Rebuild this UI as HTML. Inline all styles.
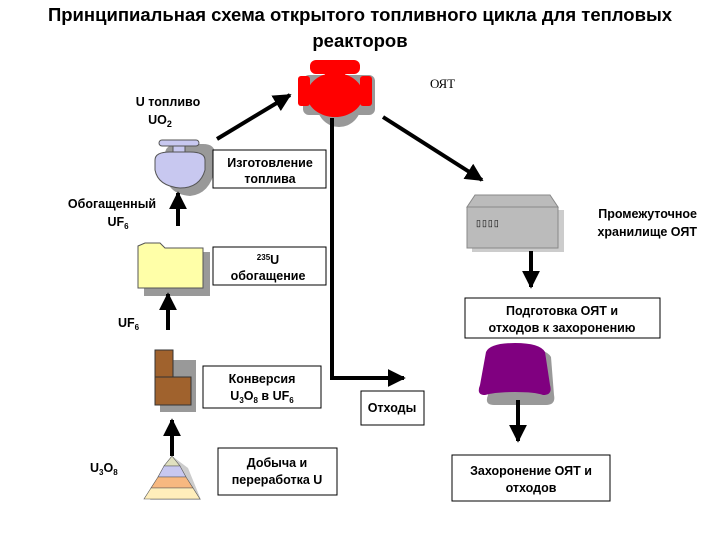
<!DOCTYPE html>
<html><head><meta charset="utf-8"><style>
body{margin:0;background:#fff}
svg{display:block}
text{font-family:"Liberation Sans",Arial,sans-serif;font-weight:bold;font-size:12.5px;fill:#000}
.b{fill:#fff;stroke:#000;stroke-width:1}
</style></head><body>
<svg width="720" height="540" viewBox="0 0 720 540">
<defs>
<marker id="ah" viewBox="0 0 10 10" refX="9" refY="5" markerWidth="4.5" markerHeight="4.5" orient="auto-start-reverse" markerUnits="strokeWidth"><path d="M0,0L10,5L0,10z" fill="#000"/></marker>
</defs>
<text x="360" y="21" text-anchor="middle" style="font-size:18.5px">Принципиальная схема открытого топливного цикла для тепловых</text>
<text x="360" y="47" text-anchor="middle" style="font-size:18.5px">реакторов</text>

<!-- reactor -->
<g transform="translate(5,5)" fill="#999"><rect x="298" y="70" width="72" height="40" rx="6"/><circle cx="334" cy="100" r="22"/></g>
<rect x="310" y="60" width="50" height="14" rx="6" fill="#f00"/>
<rect x="325" y="70" width="20" height="8" fill="#f00"/>
<rect x="298" y="76" width="12" height="30" rx="3" fill="#f00"/>
<rect x="360" y="76" width="12" height="30" rx="3" fill="#f00"/>
<ellipse cx="335" cy="95" rx="28" ry="22" fill="#f00"/>
<text x="430" y="88" style="font-family:'Liberation Serif',serif;font-weight:normal;font-size:13px">ОЯТ</text>

<text x="168" y="106" text-anchor="middle">U топливо</text>
<text x="160" y="124" text-anchor="middle">UO<tspan font-size="9" dy="3">2</tspan></text>

<!-- blue icon -->
<path d="M160,150 Q160,140 175,140 L198,140 Q210,140 210,150 L210,165 Q205,190 185,192 Q160,190 160,165z" fill="#999" transform="translate(5,4)"/>
<rect x="159" y="140" width="40" height="6" rx="3" fill="#c8c8f0" stroke="#555"/>
<rect x="173" y="146" width="12" height="6" fill="#c8c8f0" stroke="#555"/>
<path d="M155,160 Q155,152 170,152 L190,152 Q205,152 205,160 L205,170 Q200,188 180,188 Q158,186 155,170z" fill="#c8c8f0" stroke="#555"/>

<rect class="b" x="213" y="150" width="113" height="38"/>
<text x="270" y="167" text-anchor="middle">Изготовление</text>
<text x="270" y="183" text-anchor="middle">топлива</text>

<line x1="217" y1="139" x2="290" y2="95" stroke="#000" stroke-width="4" marker-end="url(#ah)"/>
<line x1="383" y1="117" x2="482" y2="180" stroke="#000" stroke-width="4" marker-end="url(#ah)"/>
<polyline points="332,118 332,378 404,378" fill="none" stroke="#000" stroke-width="4" marker-end="url(#ah)"/>

<text x="112" y="208" text-anchor="middle">Обогащенный</text>
<text x="118" y="226" text-anchor="middle">UF<tspan font-size="8" dy="3">6</tspan></text>
<line x1="178" y1="226" x2="178" y2="193" stroke="#000" stroke-width="4" marker-end="url(#ah)"/>

<!-- gray storage -->
<rect x="472" y="210" width="92" height="42" fill="#ccc"/>
<path d="M467,207 L475,195 L550,195 L558,207z" fill="#bbb" stroke="#888"/>
<rect x="467" y="207" width="91" height="41" fill="#bbb" stroke="#888"/>
<text x="476" y="226" style="font-size:9px;font-weight:normal;letter-spacing:1px">▯▯▯▯</text>
<text x="697" y="218" text-anchor="end">Промежуточное</text>
<text x="697" y="236" text-anchor="end">хранилище ОЯТ</text>
<line x1="531" y1="251" x2="531" y2="287" stroke="#000" stroke-width="4" marker-end="url(#ah)"/>

<!-- folder -->
<rect x="144" y="252" width="66" height="44" fill="#999"/>
<path d="M138,252 L138,246 L145,243 L160,243 L165,248 L203,248 L203,288 L138,288z" fill="#ffffa8" stroke="#555"/>
<rect class="b" x="213" y="247" width="113" height="38"/>
<text x="268" y="264" text-anchor="middle"><tspan font-size="8" dy="-4">235</tspan><tspan dy="4">U</tspan></text>
<text x="268" y="280" text-anchor="middle">обогащение</text>

<text x="118" y="327">UF<tspan font-size="8" dy="3">6</tspan></text>
<line x1="168" y1="330" x2="168" y2="294" stroke="#000" stroke-width="4" marker-end="url(#ah)"/>

<rect class="b" x="465" y="298" width="195" height="40"/>
<text x="562" y="315" text-anchor="middle">Подготовка ОЯТ и</text>
<text x="562" y="332" text-anchor="middle">отходов к захоронению</text>

<!-- brown -->
<rect x="160" y="360" width="36" height="52" fill="#999"/>
<rect x="155" y="350" width="18" height="30" fill="#a0622d" stroke="#333"/>
<rect x="155" y="377" width="36" height="28" fill="#a0622d" stroke="#333"/>
<rect class="b" x="203" y="366" width="118" height="42"/>
<text x="262" y="383" text-anchor="middle">Конверсия</text>
<text x="262" y="400" text-anchor="middle">U<tspan font-size="8" dy="3">3</tspan><tspan dy="-3">O</tspan><tspan font-size="8" dy="3">8</tspan><tspan dy="-3">   в UF</tspan><tspan font-size="8" dy="3">6</tspan></text>

<!-- purple -->
<path d="M486,352 Q490,343 515,343 Q540,343 545,352 L548,390 Q550,400 540,400 L488,400 Q478,400 482,390z" fill="#999" transform="translate(6,5)"/>
<path d="M486,352 Q490,343 515,343 Q540,343 545,352 L550,385 Q553,395 543,395 Q535,392 515,392 Q495,392 485,395 Q476,395 480,385z" fill="#800080"/>
<rect class="b" x="361" y="391" width="63" height="34"/>
<text x="392" y="412" text-anchor="middle">Отходы</text>
<line x1="518" y1="400" x2="518" y2="441" stroke="#000" stroke-width="4" marker-end="url(#ah)"/>

<text x="90" y="472">U<tspan font-size="8" dy="3">3</tspan><tspan dy="-3">O</tspan><tspan font-size="8" dy="3">8</tspan></text>
<line x1="172" y1="456" x2="172" y2="420" stroke="#000" stroke-width="4" marker-end="url(#ah)"/>
<!-- pyramid -->
<polygon points="172,456 150,500 201,500 188,468" fill="#ccc"/>
<polygon points="172,456 180,466 164,466" fill="#e0e0c0" stroke="#555" stroke-width=".6"/>
<polygon points="164,466 180,466 186,477 158,477" fill="#c8c8f0" stroke="#555" stroke-width=".6"/>
<polygon points="158,477 186,477 193,488 151,488" fill="#f7b880" stroke="#555" stroke-width=".6"/>
<polygon points="151,488 193,488 200,499 144,499" fill="#ffeebb" stroke="#555" stroke-width=".6"/>
<rect class="b" x="218" y="448" width="119" height="47"/>
<text x="277" y="467" text-anchor="middle">Добыча и</text>
<text x="277" y="484" text-anchor="middle">переработка U</text>

<rect class="b" x="452" y="455" width="158" height="46"/>
<text x="531" y="475" text-anchor="middle">Захоронение ОЯТ и</text>
<text x="531" y="492" text-anchor="middle">отходов</text>
</svg>
</body></html>
